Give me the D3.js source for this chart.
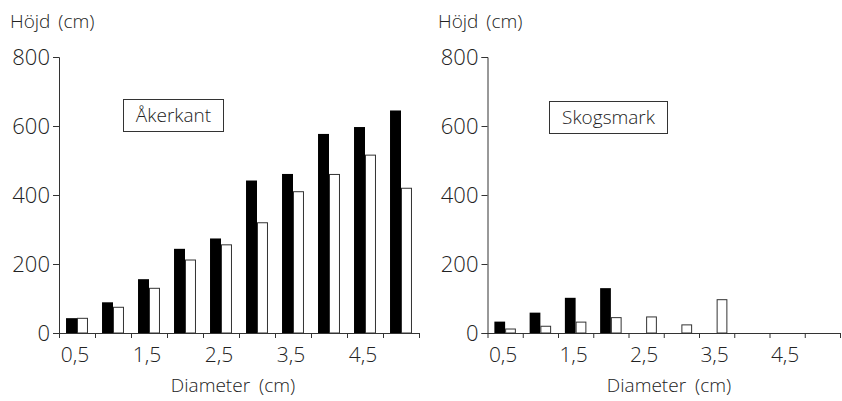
<!DOCTYPE html>
<html>
<head>
<meta charset="utf-8">
<script src="https://cdn.jsdelivr.net/npm/d3@7"></script>
<style>
  html, body { margin: 0; padding: 0; background: #fff; }
  svg text { font-family: "Open Sans", "Lato", sans-serif; font-weight: 300; fill: #222; }
</style>
</head>
<body>
<svg id="chart" width="842" height="401"></svg>
<script>
// ---- data ----
const categories = ["0,5", "1", "1,5", "2", "2,5", "3", "3,5", "4", "4,5", "5"];
const tickLabels = ["0,5", "1,5", "2,5", "3,5", "4,5"];
const yTicks = [0, 200, 400, 600, 800];
const akerkantBlack = [43, 89, 156, 244, 274, 442, 461, 577, 597, 645];
const akerkantWhite = [44, 76, 131, 213, 257, 321, 411, 461, 517, 421];
const skogBlack = [33, 59, 102, 130, 0, 0, 0, 0, 0, 0];
const skogWhite = [13, 21, 33, 46, 48, 25, 98, 0, 0, 0];
const seriesKeys = ["black", "white"];

const svg = d3.select("#chart");

function panel(opts) {
  const { x0, x1, yTop, yBottom, black, white, title, titleBox, yLabelX, xLabelX } = opts;
  const g = svg.append("g");
  const x = d3.scaleBand().domain(categories).range([x0, x1]).paddingInner(0).paddingOuter(0);
  const xs = d3.scaleBand().domain(seriesKeys).range([0, x.bandwidth()]).paddingInner(0).paddingOuter(0.64);
  const y = d3.scaleLinear().domain([0, 800]).range([yBottom, yTop]);
  const idx = d3.scaleLinear().domain([0, categories.length]).range([x0, x1]);

  const rows = categories.map((c, i) => ({ c, black: black[i], white: white[i] }));

  // bars
  const grp = g.selectAll("g.cat").data(rows).join("g").attr("transform", d => `translate(${x(d.c)},0)`);
  grp.filter(d => d.black > 0).append("rect")
    .attr("x", xs("black")).attr("width", xs.bandwidth())
    .attr("y", d => y(d.black)).attr("height", d => y(0) - y(d.black))
    .attr("fill", "#000");
  grp.filter(d => d.white > 0).append("rect")
    .attr("x", xs("white") + 0.5).attr("width", xs.bandwidth() - 1)
    .attr("y", d => y(d.white) + 0.5).attr("height", d => y(0) - y(d.white) - 0.5)
    .attr("fill", "#fff").attr("stroke", "#333").attr("stroke-width", 1);

  // y axis
  const ya = g.append("g").attr("transform", `translate(${x0},0)`)
    .call(d3.axisLeft(y).tickValues(yTicks).tickSize(6).tickPadding(3).tickFormat(d3.format("d")));
  ya.selectAll("path,line").attr("stroke", "#333");
  ya.selectAll("text").style("font-size", "22px").attr("dy", "0.36em");

  // x axis (ticks at category boundaries)
  const xa = g.append("g").attr("transform", `translate(0,${yBottom})`)
    .call(d3.axisBottom(idx).tickValues(d3.range(categories.length + 1)).tickSize(5).tickSizeOuter(0).tickFormat(""));
  xa.selectAll("path,line").attr("stroke", "#333");

  // x labels
  g.selectAll("text.xl").data(tickLabels).join("text").attr("class", "xl")
    .attr("x", d => x(d) + x.bandwidth() / 2 - 2)
    .attr("y", yBottom + 29)
    .attr("text-anchor", "middle").style("font-size", "21px").text(d => d);

  // axis titles
  g.append("text").attr("x", yLabelX).attr("y", 28).style("font-size", "19px").style("word-spacing", "3px").text("Höjd (cm)");
  g.append("text").attr("x", xLabelX).attr("y", 392).attr("text-anchor", "middle").style("font-size", "19px").style("word-spacing", "4px").text("Diameter (cm)");

  // title box
  g.append("rect").attr("x", titleBox[0] + 0.5).attr("y", titleBox[1] + 0.5).attr("width", titleBox[2]).attr("height", titleBox[3])
    .attr("fill", "#fff").attr("stroke", "#333");
  g.append("text").attr("x", titleBox[0] + titleBox[2] / 2 + 0.5).attr("y", titleBox[1] + titleBox[3] / 2 + 7)
    .attr("text-anchor", "middle").style("font-size", "19px").text(title);
}

panel({ x0: 59, x1: 419, yTop: 57, yBottom: 333, black: akerkantBlack, white: akerkantWhite,
  title: "Åkerkant", titleBox: [123, 99, 100, 32], yLabelX: 10, xLabelX: 233 });
panel({ x0: 487.5, x1: 840, yTop: 57, yBottom: 333, black: skogBlack, white: skogWhite,
  title: "Skogsmark", titleBox: [549, 101, 118, 32], yLabelX: 438, xLabelX: 669 });
</script>
</body>
</html>
